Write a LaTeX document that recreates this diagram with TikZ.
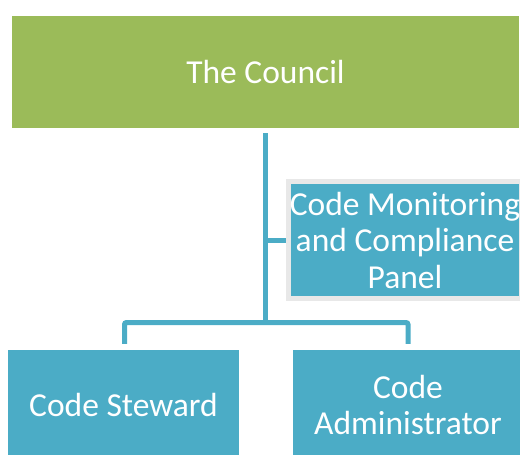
\documentclass[tikz,border=0pt]{standalone}
\usepackage{fontspec}
\setmainfont{Carlito}
\usetikzlibrary{calc}
\definecolor{mygreen}{RGB}{155, 187, 89}
\definecolor{myblue}{RGB}{75, 172, 198}
\definecolor{mygray}{RGB}{232, 232, 232}

\begin{document}
\begin{tikzpicture}[x=1pt,y=-1pt]

\tikzstyle{box} = [rectangle, inner sep=0, text=white, align=center,
    font=\fontsize{33.5}{36.5}\selectfont]
\tikzstyle{green} = [box, fill=mygreen, minimum width=507, minimum height=112]
\tikzstyle{blue} = [box, fill=myblue, minimum width=231, minimum height=110]
\tikzstyle{panel} = [box, fill=myblue, draw=mygray, line width=5,
    minimum width=233, minimum height=117]
\tikzstyle{link} = [draw=myblue, line width=5, rounded corners=2]

\useasboundingbox (0,0) rectangle (520,455);

% =========================
% top of the chart
% =========================
\node[green] (council) at (265.5,72) {The Council};

% =========================
% panel beside the trunk
% =========================
\node[panel] (panel) at (405,240) {Code Monitoring\\and Compliance\\Panel};

% =========================
% bottom row
% =========================
\node[blue] (steward) at (123.5,405) {Code Steward};
\node[blue, minimum width=230] (admin) at (408,405) {Code\\Administrator};

% =========================
% connectors
% =========================
\coordinate (top) at ($(council.south)+(0,5)$);
\coordinate (fork) at (265.5,322.5);
\coordinate (branch) at (265.5,240);

\draw[link] (top) -- (fork);
\draw[link] (branch) -- (panel.west);
\draw[link] ($(steward.north)+(1,-6)$) |- (fork) -| ($(admin.north)+(0,-6)$);

\end{tikzpicture}
\end{document}
